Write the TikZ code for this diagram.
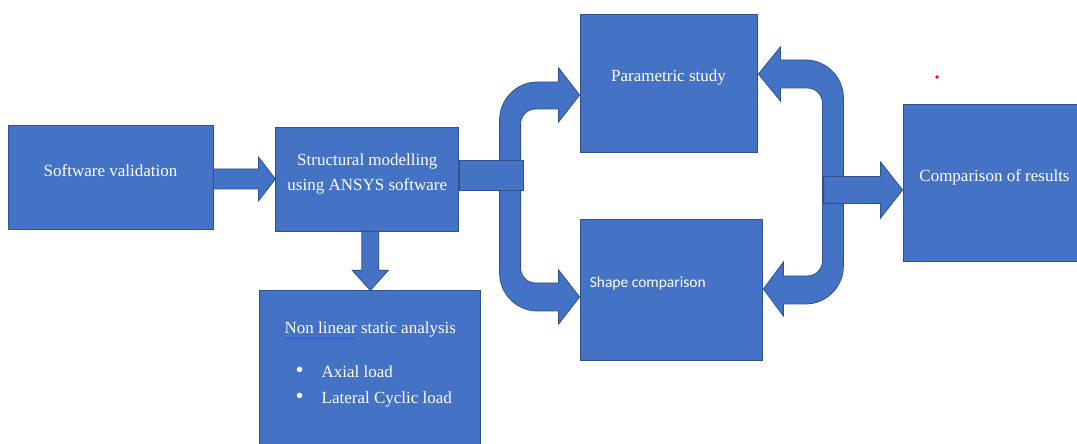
\documentclass[tikz,border=0pt]{standalone}
\usepackage{fontspec}
\setmainfont{Liberation Serif}
\newfontfamily\calibrifont{Carlito}
\usetikzlibrary{positioning}
\definecolor{boxblue}{HTML}{4472C4}
\definecolor{boxline}{HTML}{2F528F}
\definecolor{spellblue}{HTML}{2F5FE0}
\newcommand{\bigbullet}{{\fontsize{23pt}{25pt}\selectfont\textbullet}}

\begin{document}
\begin{tikzpicture}[x=1pt,y=1pt,
    box/.style={draw=boxline,fill=boxblue,line width=0.8pt,inner sep=0pt},
    blockarrow/.style={draw=boxline,fill=boxblue,line width=0.8pt,line join=miter},
    lbl/.style={text=white,inner sep=0pt,font=\fontsize{17pt}{25pt}\selectfont},
    txt/.style={lbl,text height=12pt,text depth=4pt}]
    \useasboundingbox (0,0) rectangle (1077,444);

    \node[box,minimum width=205pt,minimum height=104pt] (valid) at (110.5,267) {};
    \node[box,minimum width=183pt,minimum height=104pt,right=62pt of valid,yshift=-2pt] (model) {};
    \node[box,minimum width=221pt,minimum height=164pt,below=59pt of model,xshift=3pt] (nonlin) {};
    \node[box,minimum width=177pt,minimum height=138pt] (param) at (668.5,361) {};
    \node[box,minimum width=182pt,minimum height=141pt,below=67pt of param,xshift=2.5pt] (shape) {};
    \node[box,minimum width=177pt,minimum height=157pt] (result) at (991.5,261.5) {};

    \node[txt] (validtxt) at ([yshift=4pt]valid.center) {Software validation};
    \node[lbl,align=center] (modeltxt) at ([yshift=5.5pt]model.center) {Structural modelling\\using ANSYS software};
    \node[txt] (paramtxt) at ([yshift=5pt]param.center) {Parametric study};
    \node[txt,anchor=west,font=\calibrifont\fontsize{15.5pt}{18pt}\selectfont] (shapetxt) at ([xshift=10pt,yshift=6.5pt]shape.west) {Shape comparison};
    \node[txt] (resulttxt) at ([xshift=3pt,yshift=4.5pt]result.center) {Comparison of results};
    \node[txt] (nlhead) at ([yshift=-39pt]nonlin.north) {Non linear static analysis};
    \node[txt,anchor=base west] (axial) at ([xshift=36pt,yshift=-87pt]nonlin.north west) {\bigbullet\hspace{18pt}Axial load};
    \node[txt,anchor=base west] (lateral) at ([xshift=36pt,yshift=-113pt]nonlin.north west) {\bigbullet\hspace{18pt}Lateral Cyclic load};
    \draw[spellblue,line width=1pt] ([yshift=-5pt]nlhead.base west) -- ++(72,0);

    \filldraw[blockarrow] (model.west) -- ++(-17,22) -- ++(0,-12) -- ++(-45,0) -- ++(0,-20) -- ++(45,0) -- ++(0,-12) -- cycle;
    \filldraw[blockarrow] (nonlin.north) -- ++(18,20) -- ++(-9.5,0) -- ++(0,39) -- ++(-17,0) -- ++(0,-39) -- ++(-9.5,0) -- cycle;
    \filldraw[blockarrow] ([yshift=-12pt]param.west) -- ++(-21,27) -- ++(0,-14) -- ++(-21,0)
        arc[start angle=90,end angle=180,radius=38pt] -- ++(0,-153)
        arc[start angle=180,end angle=270,radius=38pt] -- ++(21,0) -- ++(0,-13)
        -- ++(21,27) -- ++(-21,27) -- ++(0,-13) -- ++(-23,0)
        arc[start angle=270,end angle=180,radius=15pt] -- ++(0,144)
        arc[start angle=180,end angle=90,radius=15pt] -- ++(23,0) -- ++(0,-13) -- cycle;
    \filldraw[blockarrow] ([xshift=1pt,yshift=9pt]param.east) -- ++(22,27) -- ++(0,-13) -- ++(25,0)
        arc[start angle=90,end angle=0,radius=38pt] -- ++(0,-168)
        arc[start angle=0,end angle=-90,radius=38pt] -- ++(-22,0) -- ++(0,-12)
        -- ++(-20,27) -- ++(20,27) -- ++(0,-14) -- ++(24,0)
        arc[start angle=270,end angle=360,radius=15pt] -- ++(0,158)
        arc[start angle=0,end angle=90,radius=15pt] -- ++(-27,0) -- ++(0,-13) -- cycle;
    \filldraw[blockarrow] ([yshift=-11pt]model.east) rectangle ++(64,30);
    \filldraw[blockarrow] ([yshift=-7.5pt]result.west) -- ++(-22,28) -- ++(0,-14.5) -- ++(-57,0) -- ++(0,-27) -- ++(57,0) -- ++(0,-14.5) -- cycle;

    \fill[red] (937,367) circle (1.8pt);
\end{tikzpicture}
\end{document}
